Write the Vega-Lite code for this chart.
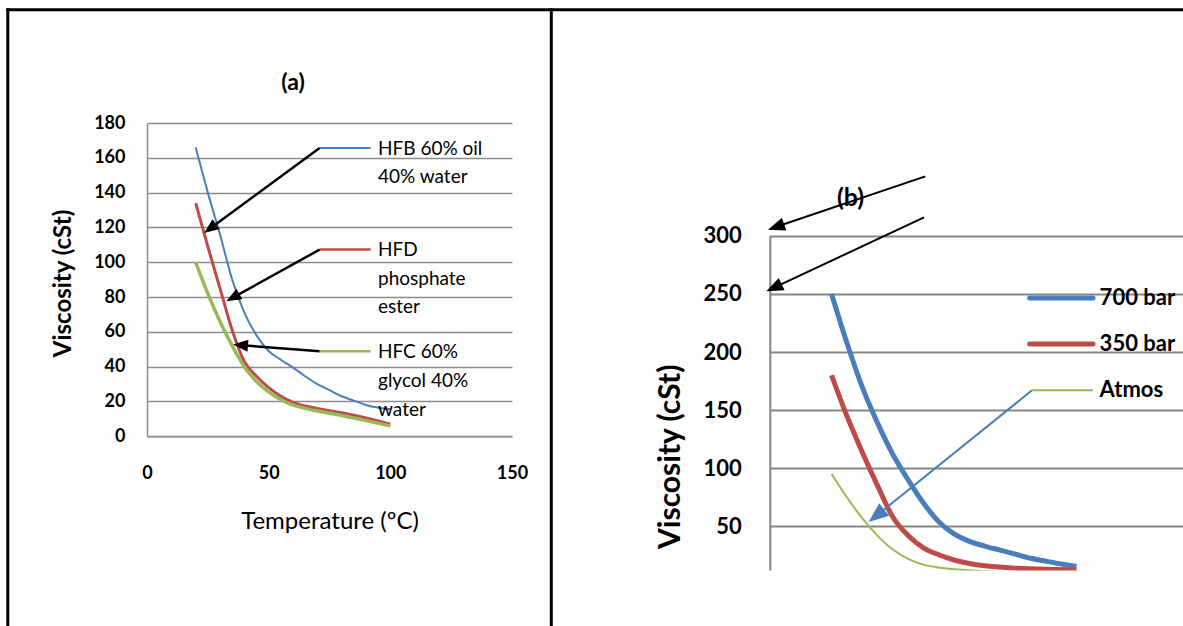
{
  "$schema": "https://vega.github.io/schema/vega-lite/v6.json",
  "autosize": {"type": "pad"},
  "padding": {"left": 5, "top": 7, "right": 0, "bottom": 0},
  "background": "white",
  "bounds": "flush",
  "spacing": 258.3,
  "config": {"view": {"stroke": null}, "font": "Lato"},
  "datasets": {
    "fluids": [
      {"fluid": "HFB 60% oil 40% water", "temperature": 20, "viscosity": 166},
      {"fluid": "HFB 60% oil 40% water", "temperature": 25, "viscosity": 140},
      {"fluid": "HFB 60% oil 40% water", "temperature": 30, "viscosity": 116},
      {"fluid": "HFB 60% oil 40% water", "temperature": 35, "viscosity": 90},
      {"fluid": "HFB 60% oil 40% water", "temperature": 40, "viscosity": 71},
      {"fluid": "HFB 60% oil 40% water", "temperature": 45, "viscosity": 58},
      {"fluid": "HFB 60% oil 40% water", "temperature": 50, "viscosity": 49},
      {"fluid": "HFB 60% oil 40% water", "temperature": 55, "viscosity": 44},
      {"fluid": "HFB 60% oil 40% water", "temperature": 60, "viscosity": 39.5},
      {"fluid": "HFB 60% oil 40% water", "temperature": 65, "viscosity": 34.5},
      {"fluid": "HFB 60% oil 40% water", "temperature": 70, "viscosity": 30},
      {"fluid": "HFB 60% oil 40% water", "temperature": 75, "viscosity": 26.5},
      {"fluid": "HFB 60% oil 40% water", "temperature": 80, "viscosity": 23},
      {"fluid": "HFB 60% oil 40% water", "temperature": 85, "viscosity": 20.5},
      {"fluid": "HFB 60% oil 40% water", "temperature": 90, "viscosity": 18},
      {"fluid": "HFB 60% oil 40% water", "temperature": 100, "viscosity": 15.5},
      {"fluid": "HFD phosphate ester", "temperature": 20, "viscosity": 134},
      {"fluid": "HFD phosphate ester", "temperature": 25, "viscosity": 109},
      {"fluid": "HFD phosphate ester", "temperature": 30, "viscosity": 85},
      {"fluid": "HFD phosphate ester", "temperature": 35, "viscosity": 61},
      {"fluid": "HFD phosphate ester", "temperature": 40, "viscosity": 43},
      {"fluid": "HFD phosphate ester", "temperature": 45, "viscosity": 34.5},
      {"fluid": "HFD phosphate ester", "temperature": 50, "viscosity": 28},
      {"fluid": "HFD phosphate ester", "temperature": 55, "viscosity": 23},
      {"fluid": "HFD phosphate ester", "temperature": 60, "viscosity": 19.5},
      {"fluid": "HFD phosphate ester", "temperature": 70, "viscosity": 16},
      {"fluid": "HFD phosphate ester", "temperature": 80, "viscosity": 13.5},
      {"fluid": "HFD phosphate ester", "temperature": 90, "viscosity": 10.5},
      {"fluid": "HFD phosphate ester", "temperature": 100, "viscosity": 7},
      {"fluid": "HFC 60% glycol 40% water", "temperature": 20, "viscosity": 100},
      {"fluid": "HFC 60% glycol 40% water", "temperature": 25, "viscosity": 82},
      {"fluid": "HFC 60% glycol 40% water", "temperature": 30, "viscosity": 66},
      {"fluid": "HFC 60% glycol 40% water", "temperature": 35, "viscosity": 52},
      {"fluid": "HFC 60% glycol 40% water", "temperature": 40, "viscosity": 40},
      {"fluid": "HFC 60% glycol 40% water", "temperature": 45, "viscosity": 31.5},
      {"fluid": "HFC 60% glycol 40% water", "temperature": 50, "viscosity": 25.5},
      {"fluid": "HFC 60% glycol 40% water", "temperature": 55, "viscosity": 21},
      {"fluid": "HFC 60% glycol 40% water", "temperature": 60, "viscosity": 18},
      {"fluid": "HFC 60% glycol 40% water", "temperature": 70, "viscosity": 14.5},
      {"fluid": "HFC 60% glycol 40% water", "temperature": 80, "viscosity": 12},
      {"fluid": "HFC 60% glycol 40% water", "temperature": 90, "viscosity": 9},
      {"fluid": "HFC 60% glycol 40% water", "temperature": 100, "viscosity": 6}
    ],
    "pressures": [
      {"pressure": "700 bar", "temperature": 20, "viscosity": 250},
      {"pressure": "700 bar", "temperature": 25, "viscosity": 208},
      {"pressure": "700 bar", "temperature": 30, "viscosity": 170},
      {"pressure": "700 bar", "temperature": 35, "viscosity": 139},
      {"pressure": "700 bar", "temperature": 40, "viscosity": 112},
      {"pressure": "700 bar", "temperature": 45, "viscosity": 90},
      {"pressure": "700 bar", "temperature": 50, "viscosity": 70},
      {"pressure": "700 bar", "temperature": 55, "viscosity": 54},
      {"pressure": "700 bar", "temperature": 60, "viscosity": 43.5},
      {"pressure": "700 bar", "temperature": 65, "viscosity": 37},
      {"pressure": "700 bar", "temperature": 70, "viscosity": 33},
      {"pressure": "700 bar", "temperature": 75, "viscosity": 29.5},
      {"pressure": "700 bar", "temperature": 80, "viscosity": 26},
      {"pressure": "700 bar", "temperature": 85, "viscosity": 22.5},
      {"pressure": "700 bar", "temperature": 90, "viscosity": 20},
      {"pressure": "700 bar", "temperature": 95, "viscosity": 17.5},
      {"pressure": "700 bar", "temperature": 100, "viscosity": 15.5},
      {"pressure": "350 bar", "temperature": 20, "viscosity": 180},
      {"pressure": "350 bar", "temperature": 25, "viscosity": 145},
      {"pressure": "350 bar", "temperature": 30, "viscosity": 114},
      {"pressure": "350 bar", "temperature": 35, "viscosity": 85},
      {"pressure": "350 bar", "temperature": 40, "viscosity": 58},
      {"pressure": "350 bar", "temperature": 45, "viscosity": 42},
      {"pressure": "350 bar", "temperature": 50, "viscosity": 31.5},
      {"pressure": "350 bar", "temperature": 55, "viscosity": 25.5},
      {"pressure": "350 bar", "temperature": 60, "viscosity": 21},
      {"pressure": "350 bar", "temperature": 65, "viscosity": 18},
      {"pressure": "350 bar", "temperature": 70, "viscosity": 16},
      {"pressure": "350 bar", "temperature": 80, "viscosity": 14},
      {"pressure": "350 bar", "temperature": 90, "viscosity": 13},
      {"pressure": "350 bar", "temperature": 100, "viscosity": 12.6},
      {"pressure": "Atmos", "temperature": 20, "viscosity": 95},
      {"pressure": "Atmos", "temperature": 25, "viscosity": 75},
      {"pressure": "Atmos", "temperature": 30, "viscosity": 57},
      {"pressure": "Atmos", "temperature": 35, "viscosity": 42},
      {"pressure": "Atmos", "temperature": 40, "viscosity": 30},
      {"pressure": "Atmos", "temperature": 45, "viscosity": 22},
      {"pressure": "Atmos", "temperature": 50, "viscosity": 17},
      {"pressure": "Atmos", "temperature": 55, "viscosity": 14.5},
      {"pressure": "Atmos", "temperature": 60, "viscosity": 13},
      {"pressure": "Atmos", "temperature": 70, "viscosity": 11.5},
      {"pressure": "Atmos", "temperature": 80, "viscosity": 10.5},
      {"pressure": "Atmos", "temperature": 90, "viscosity": 10},
      {"pressure": "Atmos", "temperature": 100, "viscosity": 9.5}
    ]
  },
  "hconcat": [
    {
      "width": 365,
      "height": 313.3,
      "data": {"name": "fluids"},
      "layer": [
        {
          "transform": [{"filter": "datum.fluid === 'HFB 60% oil 40% water'"}],
          "mark": {"type": "line", "color": "#4a7ebb", "strokeWidth": 2, "interpolate": "monotone"},
          "encoding": {
            "x": {
              "field": "temperature", "type": "quantitative", "title": "Temperature (ºC)",
              "scale": {"domain": [0, 150], "nice": false},
              "axis": {
                "values": [0, 50, 100, 150], "tickCount": 20, "grid": false, "ticks": false,
                "domainColor": "#8c8c8c", "domainWidth": 1.5,
                "labelFontSize": 18, "labelFontWeight": "bold", "labelColor": "black",
                "labelPadding": 28, "labelFlush": false, "labelOverlap": false,
                "titleFontSize": 24, "titleFontWeight": "normal", "titleColor": "black",
                "titleY": 85, "titleBaseline": "middle"
              }
            },
            "y": {
              "field": "viscosity", "type": "quantitative", "title": "Viscosity (cSt)",
              "scale": {"domain": [0, 180], "nice": false},
              "axis": {
                "values": [0, 20, 40, 60, 80, 100, 120, 140, 160, 180], "tickCount": 20,
                "grid": true, "gridColor": "#8c8c8c", "gridWidth": 1.5, "ticks": false,
                "domainColor": "#8c8c8c", "domainWidth": 1.5,
                "labelFontSize": 18, "labelFontWeight": "bold", "labelColor": "black",
                "labelPadding": 22, "labelOverlap": false,
                "titleFontSize": 24, "titleFontWeight": "bold", "titleColor": "black",
                "titleX": -84, "titleY": 160, "titleAngle": -90, "titleAlign": "center", "titleBaseline": "middle"
              }
            }
          }
        },
        {
          "transform": [{"filter": "datum.fluid === 'HFD phosphate ester'"}],
          "mark": {"type": "line", "color": "#be4b48", "strokeWidth": 3, "interpolate": "monotone"},
          "encoding": {
            "x": {"field": "temperature", "type": "quantitative"},
            "y": {"field": "viscosity", "type": "quantitative"}
          }
        },
        {
          "transform": [{"filter": "datum.fluid === 'HFC 60% glycol 40% water'"}],
          "mark": {"type": "line", "color": "#98b954", "strokeWidth": 3.5, "interpolate": "monotone"},
          "encoding": {
            "x": {"field": "temperature", "type": "quantitative"},
            "y": {"field": "viscosity", "type": "quantitative"}
          }
        },
        {
          "data": {"values": [{}]},
          "layer": [
            {"mark": {"type": "rule", "color": "#4a7ebb", "strokeWidth": 2},
             "encoding": {"x": {"datum": 70.93, "type": "quantitative"}, "x2": {"datum": 91.89}, "y": {"datum": 165.63, "type": "quantitative"}}},
            {"mark": {"type": "rule", "color": "#be4b48", "strokeWidth": 2.5},
             "encoding": {"x": {"datum": 70.93, "type": "quantitative"}, "x2": {"datum": 91.89}, "y": {"datum": 107.26, "type": "quantitative"}}},
            {"mark": {"type": "rule", "color": "#98b954", "strokeWidth": 2.5},
             "encoding": {"x": {"datum": 70.93, "type": "quantitative"}, "x2": {"datum": 91.89}, "y": {"datum": 48.83, "type": "quantitative"}}},
            {"mark": {"type": "rule", "color": "black", "strokeWidth": 2.5},
             "encoding": {"x": {"datum": 70.93, "type": "quantitative"}, "y": {"datum": 165.63, "type": "quantitative"}, "x2": {"datum": 26.06}, "y2": {"datum": 119.5}}},
            {"mark": {"type": "rule", "color": "black", "strokeWidth": 2.5},
             "encoding": {"x": {"datum": 70.93, "type": "quantitative"}, "y": {"datum": 107.26, "type": "quantitative"}, "x2": {"datum": 35.47}, "y2": {"datum": 79.8}}},
            {"mark": {"type": "rule", "color": "black", "strokeWidth": 2.5},
             "encoding": {"x": {"datum": 70.93, "type": "quantitative"}, "y": {"datum": 48.83, "type": "quantitative"}, "x2": {"datum": 38.63}, "y2": {"datum": 52.34}}},
            {"mark": {"type": "point", "shape": "M0,0L-0.4,1L0.4,1Z", "filled": true, "color": "black", "opacity": 1, "size": 900, "angle": -126.3},
             "encoding": {"x": {"datum": 23.43, "type": "quantitative"}, "y": {"datum": 116.8, "type": "quantitative"}}},
            {"mark": {"type": "point", "shape": "M0,0L-0.4,1L0.4,1Z", "filled": true, "color": "black", "opacity": 1, "size": 900, "angle": -119.0},
             "encoding": {"x": {"datum": 32.59, "type": "quantitative"}, "y": {"datum": 77.56, "type": "quantitative"}}},
            {"mark": {"type": "point", "shape": "M0,0L-0.4,1L0.4,1Z", "filled": true, "color": "black", "opacity": 1, "size": 900, "angle": -85.6},
             "encoding": {"x": {"datum": 35.34, "type": "quantitative"}, "y": {"datum": 52.68, "type": "quantitative"}}},
            {"mark": {"type": "text", "text": ["HFB 60% oil", "40% water"], "align": "left", "baseline": "top", "fontSize": 19, "lineHeight": 28.5, "color": "black"},
             "encoding": {"x": {"datum": 94.93, "type": "quantitative"}, "y": {"datum": 170.34, "type": "quantitative"}}},
            {"mark": {"type": "text", "text": ["HFD", "phosphate", "ester"], "align": "left", "baseline": "top", "fontSize": 19, "lineHeight": 28.5, "color": "black"},
             "encoding": {"x": {"datum": 94.93, "type": "quantitative"}, "y": {"datum": 111.97, "type": "quantitative"}}},
            {"mark": {"type": "text", "text": ["HFC 60%", "glycol 40%", "water"], "align": "left", "baseline": "top", "fontSize": 19, "lineHeight": 29, "color": "black"},
             "encoding": {"x": {"datum": 94.93, "type": "quantitative"}, "y": {"datum": 53.55, "type": "quantitative"}}},
            {"mark": {"type": "text", "text": "(a)", "align": "center", "baseline": "middle", "fontSize": 23, "fontWeight": "bold", "color": "black"},
             "encoding": {"x": {"datum": 60.0, "type": "quantitative"}, "y": {"datum": 203.0, "type": "quantitative"}}},
            {"mark": {"type": "rule", "color": "black", "strokeWidth": 3, "strokeCap": "square"},
             "encoding": {"x": {"datum": -57.21, "type": "quantitative"}, "x2": {"datum": 425.67}, "y": {"datum": 245.03, "type": "quantitative"}}},
            {"mark": {"type": "rule", "color": "black", "strokeWidth": 3, "strokeCap": "square"},
             "encoding": {"x": {"datum": -57.21, "type": "quantitative"}, "y": {"datum": 245.03, "type": "quantitative"}, "y2": {"datum": -108.87}}},
            {"mark": {"type": "rule", "color": "black", "strokeWidth": 3, "strokeCap": "square"},
             "encoding": {"x": {"datum": 166.15, "type": "quantitative"}, "y": {"datum": 245.03, "type": "quantitative"}, "y2": {"datum": -108.87}}}
          ]
        }
      ]
    },
    {
      "width": 414,
      "height": 447.6,
      "data": {"name": "pressures"},
      "layer": [
        {
          "transform": [{"filter": "datum.pressure === '700 bar'"}],
          "mark": {"type": "line", "color": "#4a7ebb", "strokeWidth": 5, "interpolate": "monotone", "clip": true},
          "encoding": {
            "x": {"field": "temperature", "type": "quantitative", "scale": {"domain": [0, 135.18], "nice": false}, "axis": null},
            "y": {
              "field": "viscosity", "type": "quantitative", "title": "Viscosity (cSt)",
              "scale": {"domain": [11.88, 397.1], "nice": false, "zero": false},
              "axis": {
                "values": [50, 100, 150, 200, 250, 300], "tickCount": 20,
                "grid": true, "gridColor": "#868686", "gridWidth": 2, "ticks": false, "domain": false,
                "labelFontSize": 22, "labelFontWeight": "bold", "labelColor": "black",
                "labelPadding": 29, "labelOverlap": false,
                "titleFontSize": 30, "titleFontWeight": "bold", "titleColor": "black",
                "titleX": -100, "titleY": 333.3, "titleAngle": -90, "titleAlign": "center", "titleBaseline": "middle"
              }
            }
          }
        },
        {
          "transform": [{"filter": "datum.pressure === '350 bar'"}],
          "mark": {"type": "line", "color": "#be4b48", "strokeWidth": 5, "interpolate": "monotone", "clip": true},
          "encoding": {
            "x": {"field": "temperature", "type": "quantitative", "axis": null},
            "y": {"field": "viscosity", "type": "quantitative", "title": "Viscosity (cSt)"}
          }
        },
        {
          "transform": [{"filter": "datum.pressure === 'Atmos'"}],
          "mark": {"type": "line", "color": "#98b954", "strokeWidth": 2, "interpolate": "monotone", "clip": true},
          "encoding": {
            "x": {"field": "temperature", "type": "quantitative", "axis": null},
            "y": {"field": "viscosity", "type": "quantitative", "title": "Viscosity (cSt)"}
          }
        },
        {
          "data": {"values": [{}]},
          "layer": [
            {"mark": {"type": "rule", "color": "#868686", "strokeWidth": 2},
             "encoding": {"x": {"datum": 0, "type": "quantitative"}, "y": {"datum": 11.88, "type": "quantitative"}, "y2": {"datum": 300}}},
            {"mark": {"type": "rule", "color": "#4a7ebb", "strokeWidth": 5, "strokeCap": "round"},
             "encoding": {"x": {"datum": 84.67, "type": "quantitative"}, "x2": {"datum": 105.37}, "y": {"datum": 246.47, "type": "quantitative"}}},
            {"mark": {"type": "rule", "color": "#be4b48", "strokeWidth": 5, "strokeCap": "round"},
             "encoding": {"x": {"datum": 84.67, "type": "quantitative"}, "x2": {"datum": 105.37}, "y": {"datum": 206.89, "type": "quantitative"}}},
            {"mark": {"type": "rule", "color": "#98b954", "strokeWidth": 2},
             "encoding": {"x": {"datum": 85.45, "type": "quantitative"}, "x2": {"datum": 105.37}, "y": {"datum": 167.04, "type": "quantitative"}}},
            {"mark": {"type": "text", "text": "700 bar", "align": "left", "baseline": "middle", "fontSize": 22, "fontWeight": "bold", "color": "black"},
             "encoding": {"x": {"datum": 107.53, "type": "quantitative"}, "y": {"datum": 246.47, "type": "quantitative"}}},
            {"mark": {"type": "text", "text": "350 bar", "align": "left", "baseline": "middle", "fontSize": 22, "fontWeight": "bold", "color": "black"},
             "encoding": {"x": {"datum": 107.53, "type": "quantitative"}, "y": {"datum": 206.89, "type": "quantitative"}}},
            {"mark": {"type": "text", "text": "Atmos", "align": "left", "baseline": "middle", "fontSize": 22, "fontWeight": "bold", "color": "black"},
             "encoding": {"x": {"datum": 107.53, "type": "quantitative"}, "y": {"datum": 167.04, "type": "quantitative"}}},
            {"mark": {"type": "text", "text": "(b)", "align": "center", "baseline": "middle", "fontSize": 25, "fontWeight": "bold", "color": "black"},
             "encoding": {"x": {"datum": 26.22, "type": "quantitative"}, "y": {"datum": 332.53, "type": "quantitative"}}},
            {"mark": {"type": "rule", "color": "black", "strokeWidth": 2},
             "encoding": {"x": {"datum": 50.61, "type": "quantitative"}, "y": {"datum": 351.2, "type": "quantitative"}, "x2": {"datum": 1.73}, "y2": {"datum": 307.57}}},
            {"mark": {"type": "rule", "color": "black", "strokeWidth": 2},
             "encoding": {"x": {"datum": 50.19, "type": "quantitative"}, "y": {"datum": 315.92, "type": "quantitative"}, "x2": {"datum": 1.05}, "y2": {"datum": 255.16}}},
            {"mark": {"type": "rule", "color": "#4a7ebb", "strokeWidth": 2},
             "encoding": {"x": {"datum": 85.45, "type": "quantitative"}, "y": {"datum": 167.04, "type": "quantitative"}, "x2": {"datum": 34.64}, "y2": {"datum": 59.12}}},
            {"mark": {"type": "point", "shape": "M0,0L-0.4,1L0.4,1Z", "filled": true, "color": "black", "opacity": 1, "size": 1156, "angle": -108.7},
             "encoding": {"x": {"datum": -0.75, "type": "quantitative"}, "y": {"datum": 305.33, "type": "quantitative"}}},
            {"mark": {"type": "point", "shape": "M0,0L-0.4,1L0.4,1Z", "filled": true, "color": "black", "opacity": 1, "size": 1156, "angle": -115.1},
             "encoding": {"x": {"datum": -1.31, "type": "quantitative"}, "y": {"datum": 252.24, "type": "quantitative"}}},
            {"mark": {"type": "point", "shape": "M0,0L-0.4,1L0.4,1Z", "filled": true, "color": "#4a7ebb", "opacity": 1, "size": 1600, "angle": -128.9},
             "encoding": {"x": {"datum": 32.1, "type": "quantitative"}, "y": {"datum": 53.7, "type": "quantitative"}}}
          ]
        }
      ]
    }
  ]
}
